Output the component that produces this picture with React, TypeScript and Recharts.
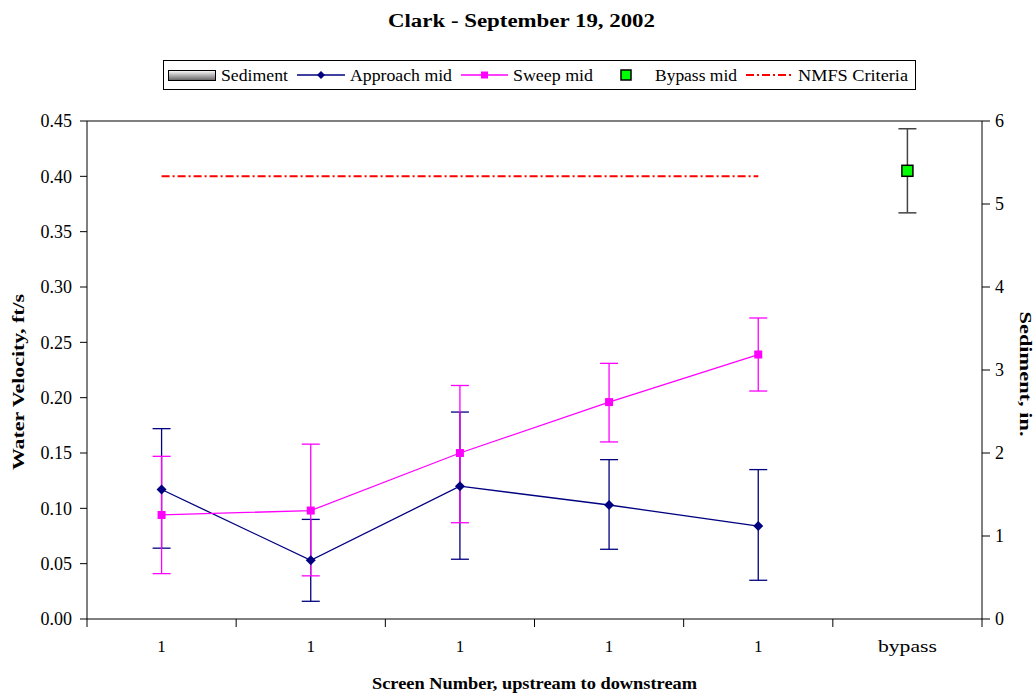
import React from 'react'
import {
  ComposedChart,
  Line,
  Bar,
  XAxis,
  YAxis,
  ErrorBar,
  ReferenceLine,
} from 'recharts'

const categories = ['1', '1', '1', '1', '1', 'bypass']

const sediment = [0, 0, 0, 0, 0, 0]

const approachMid = [0.117, 0.053, 0.12, 0.103, 0.084, null]
const approachLow = [0.064, 0.016, 0.054, 0.063, 0.035, null]
const approachHigh = [0.172, 0.09, 0.187, 0.144, 0.135, null]

const sweepMid = [0.094, 0.098, 0.15, 0.196, 0.239, null]
const sweepLow = [0.041, 0.039, 0.087, 0.16, 0.206, null]
const sweepHigh = [0.147, 0.158, 0.211, 0.231, 0.272, null]

const bypassMid = [null, null, null, null, null, 0.405]
const bypassLow = [null, null, null, null, null, 0.367]
const bypassHigh = [null, null, null, null, null, 0.443]

const nmfsCriteria = [0.4, 0.4, 0.4, 0.4, 0.4, null]

const velocityTicks = [0, 0.05, 0.1, 0.15, 0.2, 0.25, 0.3, 0.35, 0.4, 0.45]
const sedimentTicks = [0, 1, 2, 3, 4, 5, 6]

const err = (v: number | null, lo: number | null, hi: number | null) =>
  v == null || lo == null || hi == null ? null : [v - lo, hi - v]

const data = categories.map((c, i) => ({
  name: c,
  sediment: sediment[i],
  approach: approachMid[i],
  approachErr: err(approachMid[i], approachLow[i], approachHigh[i]),
  sweep: sweepMid[i],
  sweepErr: err(sweepMid[i], sweepLow[i], sweepHigh[i]),
  bypass: bypassMid[i],
  bypassErr: err(bypassMid[i], bypassLow[i], bypassHigh[i]),
  nmfs: nmfsCriteria[i],
}))

const FONT = '"Liberation Serif", "Times New Roman", serif'

function CategoryTick(props: any) {
  const { x, y, payload, index } = props
  const half = payload?.offset || 74.6
  const stretch = payload.value === 'bypass' ? { textLength: 59, lengthAdjust: 'spacingAndGlyphs' } : {}
  return (
    <g>
      <line x1={x - half} y1={y} x2={x - half} y2={y + 8} stroke="#000" />
      {index === categories.length - 1 && (
        <line x1={x + half} y1={y} x2={x + half} y2={y + 8} stroke="#000" />
      )}
      <text x={x} y={y + 33} textAnchor="middle" fontSize={17} fontFamily={FONT} fill="#000" {...stretch}>
        {payload.value}
      </text>
    </g>
  )
}

function LeftTick(props: any) {
  const { x, y, payload } = props
  return (
    <text x={x} y={y} dy="0.35em" textAnchor="end" fontSize={18} fontFamily={FONT} fill="#000">
      {Number(payload.value).toFixed(2)}
    </text>
  )
}

function RightTick(props: any) {
  const { x, y, payload } = props
  return (
    <text x={x} y={y} dy="0.35em" textAnchor="start" fontSize={18} fontFamily={FONT} fill="#000">
      {payload.value}
    </text>
  )
}

function Diamond(props: any) {
  const { cx, cy } = props
  if (cx == null || cy == null || props.value == null) return null
  return <path d={`M${cx},${cy - 5}L${cx + 5},${cy}L${cx},${cy + 5}L${cx - 5},${cy}Z`} fill="#000080" />
}

function SquareDot(props: any) {
  const { cx, cy } = props
  if (cx == null || cy == null || props.value == null) return null
  return <rect x={cx - 4} y={cy - 4} width={8} height={8} fill="#FF00FF" />
}

function GreenSquare(props: any) {
  const { cx, cy } = props
  if (cx == null || cy == null || props.value == null) return null
  return <rect x={cx - 5.5} y={cy - 5.5} width={11} height={11} fill="#00FF00" stroke="#000" strokeWidth={1.5} />
}

function Stretched(props: { x: number; y: number; len: number; children: string; bold?: boolean; size?: number; anchor?: string; transform?: string }) {
  return (
    <text
      x={props.x}
      y={props.y}
      textLength={props.len}
      lengthAdjust="spacingAndGlyphs"
      textAnchor={props.anchor || 'start'}
      fontSize={props.size || 17}
      fontWeight={props.bold ? 'bold' : 'normal'}
      fontFamily={FONT}
      fill="#000"
      transform={props.transform}
    >
      {props.children}
    </text>
  )
}

function TitleAndLegend() {
  return (
    <svg width={1035} height={100} style={{ position: 'absolute', left: 0, top: 0 }}>
      <defs>
        <linearGradient id="sedGrad" x1="0" y1="0" x2="0" y2="1">
          <stop offset="0" stopColor="#ffffff" />
          <stop offset="1" stopColor="#606060" />
        </linearGradient>
      </defs>
      <Stretched x={521.5} y={27} len={267} bold size={18} anchor="middle">
        Clark - September 19, 2002
      </Stretched>
      <rect x={163.5} y={60.5} width={752} height={29} fill="#fff" stroke="#000" />
      <rect x={168.5} y={70.5} width={47} height={10} fill="url(#sedGrad)" stroke="#000" />
      <Stretched x={221} y={81} len={67}>Sediment</Stretched>
      <line x1={297} y1={75} x2={345} y2={75} stroke="#000080" strokeWidth={1.5} />
      <path d="M321,71L325,75L321,79L317,75Z" fill="#000080" />
      <Stretched x={350} y={81} len={102}>Approach mid</Stretched>
      <line x1={461} y1={75} x2={508} y2={75} stroke="#FF00FF" strokeWidth={1.5} />
      <rect x={481} y={71.5} width={7} height={7} fill="#FF00FF" />
      <Stretched x={513} y={81} len={80}>Sweep mid</Stretched>
      <rect x={621} y={70} width={10} height={10} fill="#00FF00" stroke="#000" strokeWidth={1.5} />
      <Stretched x={655} y={81} len={82}>Bypass mid</Stretched>
      <line x1={746} y1={75} x2={793} y2={75} stroke="#FF0000" strokeWidth={2} strokeDasharray="8 3 2 3" />
      <Stretched x={798} y={81} len={110}>NMFS Criteria</Stretched>
    </svg>
  )
}

export default function App() {
  return (
    <div
      style={{
        position: 'absolute',
        left: 0,
        top: 0,
        width: 1035,
        height: 694,
        background: '#fff',
        fontFamily: FONT,
      }}
    >
      <ComposedChart
        width={1035}
        height={694}
        data={data}
        margin={{ top: 121, right: 0, bottom: 0, left: 17 }}
        style={{ position: 'absolute', left: 0, top: 0 }}
      >
        <XAxis
          dataKey="name"
          xAxisId="cat"
          height={75}
          tickLine={false}
          tickSize={0}
          tickMargin={0}
          axisLine={{ stroke: '#000' }}
          tick={<CategoryTick />}
          interval={0}
          label={{
            content: () => (
              <Stretched x={534.5} y={689} len={325} bold anchor="middle">
                Screen Number, upstream to downstream
              </Stretched>
            ),
          }}
        />
        <YAxis
          yAxisId="vel"
          domain={[0, 0.45]}
          ticks={velocityTicks}
          width={70}
          tickSize={7}
          tickMargin={8}
          tick={<LeftTick />}
          axisLine={{ stroke: '#000' }}
          tickLine={{ stroke: '#000' }}
          label={{
            content: () => (
              <Stretched x={24} y={382} len={176} bold anchor="middle" transform="rotate(-90 24 382)">
                Water Velocity, ft/s
              </Stretched>
            ),
          }}
        />
        <YAxis
          yAxisId="sed"
          orientation="right"
          domain={[0, 6]}
          ticks={sedimentTicks}
          width={53}
          tickSize={8}
          tickMargin={5}
          tick={<RightTick />}
          axisLine={{ stroke: '#000' }}
          tickLine={{ stroke: '#000' }}
          label={{
            content: () => (
              <Stretched x={1020} y={374} len={125} bold anchor="middle" transform="rotate(90 1020 374)">
                Sediment, in.
              </Stretched>
            ),
          }}
        />
        <ReferenceLine yAxisId="vel" xAxisId="cat" y={0.45} stroke="#808080" strokeWidth={2} />
        <Bar
          dataKey="sediment"
          xAxisId="cat"
          yAxisId="sed"
          fill="#a0a0a0"
          stroke="#808080"
          barSize={100}
          isAnimationActive={false}
        />
        <Line
          dataKey="nmfs"
          xAxisId="cat"
          yAxisId="vel"
          stroke="#FF0000"
          strokeWidth={2}
          strokeDasharray="8 3 2 3"
          dot={false}
          activeDot={false}
          isAnimationActive={false}
        />
        <Line
          dataKey="approach"
          xAxisId="cat"
          yAxisId="vel"
          stroke="#000080"
          strokeWidth={1.3}
          dot={<Diamond />}
          activeDot={false}
          isAnimationActive={false}
        >
          <ErrorBar dataKey="approachErr" direction="y" width={9} stroke="#000080" strokeWidth={1.3} />
        </Line>
        <Line
          dataKey="sweep"
          xAxisId="cat"
          yAxisId="vel"
          stroke="#FF00FF"
          strokeWidth={1.3}
          dot={<SquareDot />}
          activeDot={false}
          isAnimationActive={false}
        >
          <ErrorBar dataKey="sweepErr" direction="y" width={9} stroke="#FF00FF" strokeWidth={1.3} />
        </Line>
        <Line
          dataKey="bypass"
          xAxisId="cat"
          yAxisId="vel"
          stroke="none"
          dot={<GreenSquare />}
          activeDot={false}
          isAnimationActive={false}
        >
          <ErrorBar dataKey="bypassErr" direction="y" width={9} stroke="#444" strokeWidth={1.5} />
        </Line>
      </ComposedChart>
      <TitleAndLegend />
    </div>
  )
}
